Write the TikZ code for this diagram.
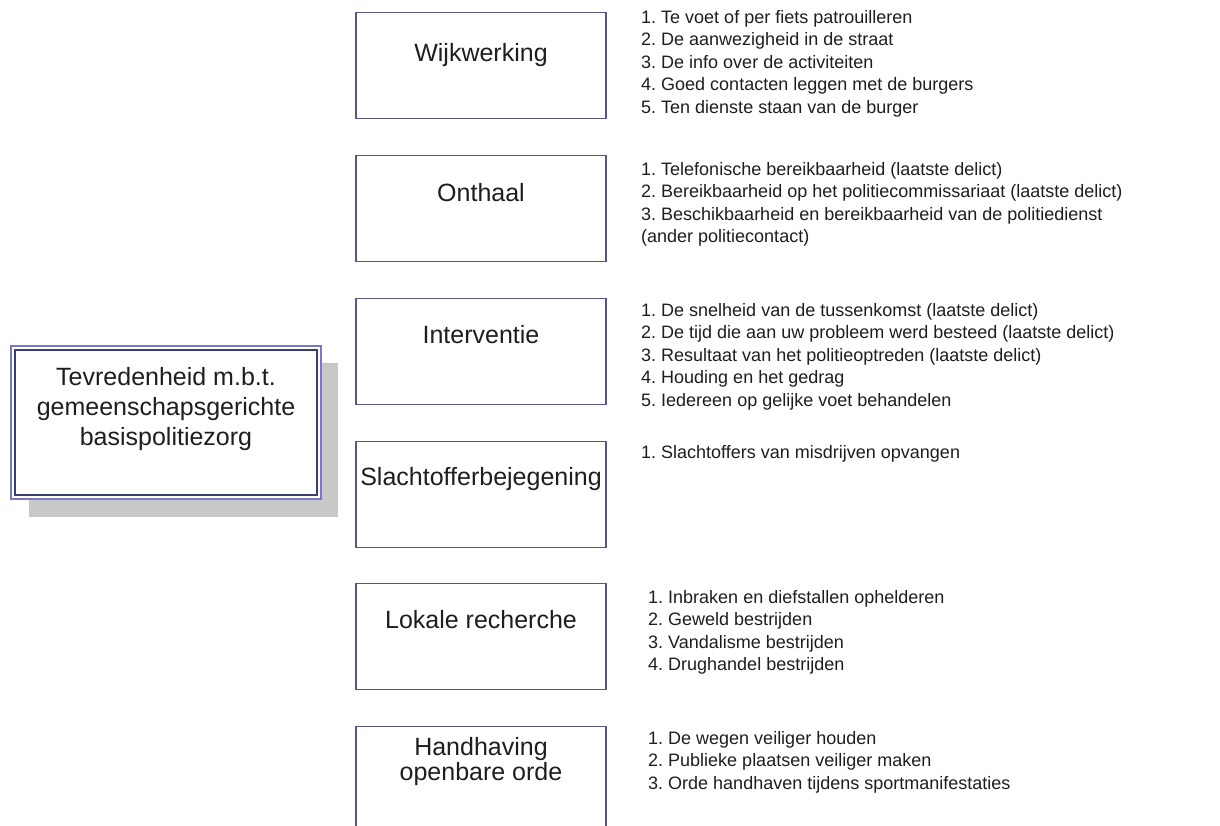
\documentclass[tikz,border=0pt]{standalone}
\usepackage{fontspec}
\setmainfont{Liberation Sans}
\frenchspacing
\definecolor{boxline}{RGB}{88,86,128}
\definecolor{outerline}{RGB}{120,120,196}
\definecolor{innerline}{RGB}{60,60,118}
\definecolor{shadowgray}{RGB}{200,200,200}
\definecolor{txt}{RGB}{30,30,30}
\tikzset{
  catbox/.style={draw=boxline, line width=1.4pt, fill=white, rectangle,
    minimum width=250pt, minimum height=106pt, inner sep=0pt},
  catlabel/.style={text=txt, inner sep=0pt, anchor=base},
  listtext/.style={font=\fontsize{18}{22.6}\selectfont, text=txt, inner sep=0pt, anchor=base west},
  mainbox/.style={draw=outerline, line width=1.6pt, fill=white, rectangle,
    minimum width=310pt, minimum height=153pt, inner sep=0pt},
  maininner/.style={draw=innerline, line width=1.2pt, rectangle,
    minimum width=302pt, minimum height=145pt, inner sep=0pt},
  shadowbox/.style={fill=shadowgray, rectangle, minimum width=309pt, minimum height=154pt, inner sep=0pt}
}
\newcommand{\itemlist}[1]{\begin{tabular}[t]{@{}l@{}}#1\end{tabular}}
\newcommand{\centerlist}[1]{\begin{tabular}[t]{@{}c@{}}#1\end{tabular}}
\begin{document}
\begin{tikzpicture}[x=1pt,y=-1pt]
\clip (0,0) rectangle (1220,825);
\fill[white] (0,0) rectangle (1220,825);

% main box with shadow
\node[shadowbox] (shadow) at (183.5,440) {};
\node[mainbox] (main) at (166,422.5) {};
\node[maininner] (maininn) at (166,422.5) {};
\node[catlabel, font=\fontsize{25}{30}\selectfont] (mainL) at (166,385) {\centerlist{Tevredenheid m.b.t.\\gemeenschapsgerichte\\basispolitiezorg}};

% category boxes
\node[catbox] (wijk) at (481,65.5) {};
\node[catlabel, font=\fontsize{25}{25}\selectfont] (wijkL) at (481,61) {Wijkwerking};
\node[catbox] (ont) at (481,208.5) {};
\node[catlabel, font=\fontsize{25}{25}\selectfont] (ontL) at (481,201) {Onthaal};
\node[catbox] (int) at (481,351.5) {};
\node[catlabel, font=\fontsize{25}{25}\selectfont] (intL) at (481,343) {Interventie};
\node[catbox] (sla) at (481,494.5) {};
\node[catlabel, font=\fontsize{25}{25}\selectfont] (slaL) at (481,485) {Slachtofferbejegening};
\node[catbox] (lok) at (481,636.5) {};
\node[catlabel, font=\fontsize{25}{25}\selectfont] (lokL) at (481,628) {Lokale recherche};
\node[catbox] (han) at (481,779.5) {};
\node[catlabel, font=\fontsize{25}{25}\selectfont] (hanL) at (481,755) {\centerlist{Handhaving\\openbare orde}};

% lists
\node[listtext] (wijkT) at (641,23) {\itemlist{1. Te voet of per fiets patrouilleren\\2. De aanwezigheid in de straat\\3. De info over de activiteiten\\4. Goed contacten leggen met de burgers\\5. Ten dienste staan van de burger}};
\node[listtext] (ontT) at (641,175) {\itemlist{1. Telefonische bereikbaarheid (laatste delict)\\2. Bereikbaarheid op het politiecommissariaat (laatste delict)\\3. Beschikbaarheid en bereikbaarheid van de politiedienst\\(ander politiecontact)}};
\node[listtext] (intT) at (641,316) {\itemlist{1. De snelheid van de tussenkomst (laatste delict)\\2. De tijd die aan uw probleem werd besteed (laatste delict)\\3. Resultaat van het politieoptreden (laatste delict)\\4. Houding en het gedrag\\5. Iedereen op gelijke voet behandelen}};
\node[listtext] (slaT) at (641,458) {\itemlist{1. Slachtoffers van misdrijven opvangen}};
\node[listtext] (lokT) at (648,603) {\itemlist{1. Inbraken en diefstallen ophelderen\\2. Geweld bestrijden\\3. Vandalisme bestrijden\\4. Drughandel bestrijden}};
\node[listtext] (hanT) at (648,744) {\itemlist{1. De wegen veiliger houden\\2. Publieke plaatsen veiliger maken\\3. Orde handhaven tijdens sportmanifestaties}};
\end{tikzpicture}
\end{document}
